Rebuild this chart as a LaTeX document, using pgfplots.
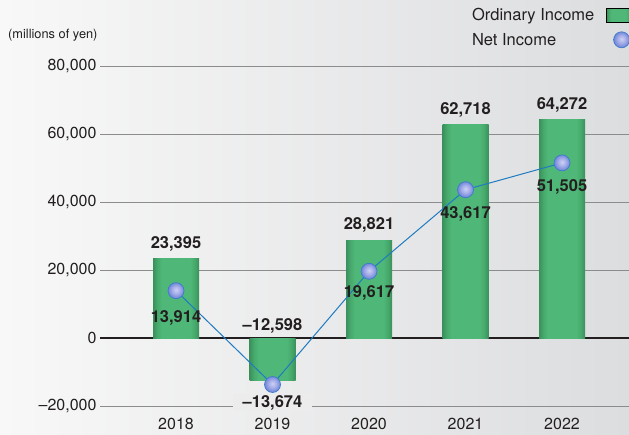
\documentclass[border=0pt]{standalone}
\usepackage{pgfplots}
\pgfplotsset{compat=1.18}
\usepackage{pgfplotstable}
\usepackage{fontspec}
\setmainfont{TeX Gyre Heros}

\definecolor{bgL}{HTML}{F8F8F8}
\definecolor{bgR}{HTML}{DCDDDF}
\colorlet{bgmid}{bgR!43!bgL}
\definecolor{gEdge}{HTML}{3A905C}
\definecolor{gMid}{HTML}{47AB6D}
\definecolor{gCtr}{HTML}{4FB878}
\definecolor{lineblue}{HTML}{1F7BC1}
\definecolor{ballhi}{HTML}{CDD1F3}
\definecolor{ballmid}{HTML}{A9B2EA}
\definecolor{ballout}{HTML}{7085D8}
\definecolor{ballline}{HTML}{3D7BCB}
\definecolor{txt}{HTML}{231F20}
\definecolor{gridc}{HTML}{8C8C8C}

\pgfdeclarehorizontalshading{barshade}{100bp}{color(0bp)=(gEdge); color(25bp)=(gEdge); color(30bp)=(gMid); color(35bp)=(gCtr); color(65bp)=(gCtr); color(70bp)=(gMid); color(75bp)=(gEdge); color(100bp)=(gEdge)}
\pgfdeclareradialshading{nballshade}{\pgfpoint{0bp}{3bp}}{color(0bp)=(ballhi); color(11bp)=(ballmid); color(25bp)=(ballout); color(50bp)=(ballout)}
\pgfdeclareplotmark{nball}{\shade[shading=nballshade, draw=ballline, line width=0.7pt] (0pt,0pt) circle (\pgfplotmarksize);}

\pgfplotstableread{
x oi oilab oidy ni nilab nidy nifill
0 23395 23,395 14.5 13914 13,914 -27 0
1 -12598 –12,598 55 -13674 –13,674 -18 1
2 28821 28,821 15 19617 19,617 -22 0
3 62718 62,718 15 43617 43,617 -24 0
4 64272 64,272 14.5 51505 51,505 -24 0
}\datatable

\begin{document}
\begin{tikzpicture}
\useasboundingbox (0pt,0pt) rectangle (629pt,434pt);
\shade[left color=bgL, right color=bgR] (0pt,0pt) rectangle (629pt,434pt);
\node[anchor=west, font=\fontsize{12.8}{14}\selectfont, text=txt, inner sep=0pt] at (8pt,399pt) {(millions of yen)};
\begin{axis}[
  at={(100pt,19pt)}, anchor=south west,
  scale only axis, width=529pt, height=415pt,
  xmin=-0.7876, xmax=4.694, ymin=-22647, ymax=99412,
  axis line style={draw=none}, tick style={draw=none},
  ymajorgrids, grid style={gridc, line width=0.8pt},
  ytick={-20000,20000,40000,60000,80000},
  yticklabels={{–20,000},{20,000},{40,000},{60,000},{80,000}},
  extra y ticks={0}, extra y tick labels={0},
  extra y tick style={grid style={txt, line width=1.1pt}},
  xtick={0,1,2,3,4}, xticklabels={2018,2019,2020,2021,2022},
  ticklabel style={font=\fontsize{16}{18}\selectfont, text=txt},
  clip=false,
  legend plot pos=right,
  legend cell align=left,
  legend style={at={(1,1)}, anchor=north east, xshift=5pt, yshift=-4pt,
    draw=none, fill=none, font=\fontsize{16.5}{18}\selectfont, text=txt,
    row sep=7pt},
]
\addlegendimage{legend image code/.code={\path (0pt,0pt); \shade[shading=barshade] (10pt,-7pt) rectangle (34pt,7pt);}}
\addlegendentry{Ordinary Income}
\addlegendimage{legend image code/.code={\path (0pt,0pt) (34pt,0pt); \shade[shading=nballshade, draw=ballline, line width=0.7pt] (25pt,0pt) circle (8pt);}}
\addlegendentry{Net Income}
\pgfplotsinvokeforeach{0,1,2,3,4}{
\addplot[forget plot, ybar, bar width=46pt, draw=none, shade, shading=barshade,
  restrict x to domain=#1:#1,
  nodes near coords, point meta=explicit symbolic,
  visualization depends on={\thisrow{oidy} \as \dy},
  every node near coord/.append style={anchor=center, yshift=\dy pt,
    font=\bfseries\fontsize{16.5}{18}\selectfont, text=txt}
] table[x=x, y=oi, meta=oilab] {\datatable};
}
\addplot[forget plot, lineblue, line width=1pt, mark=nball, mark size=8pt,
  nodes near coords, point meta=explicit symbolic,
  visualization depends on={\thisrow{nidy} \as \dy},
  visualization depends on={\thisrow{nifill} \as \fo},
  every node near coord/.append style={anchor=center, yshift=\dy pt,
    fill=bgmid, fill opacity=\fo, text opacity=1, inner xsep=10pt, inner ysep=1pt,
    font=\bfseries\fontsize{16.5}{18}\selectfont, text=txt}
] table[x=x, y=ni, meta=nilab] {\datatable};
\end{axis}
\end{tikzpicture}
\end{document}
